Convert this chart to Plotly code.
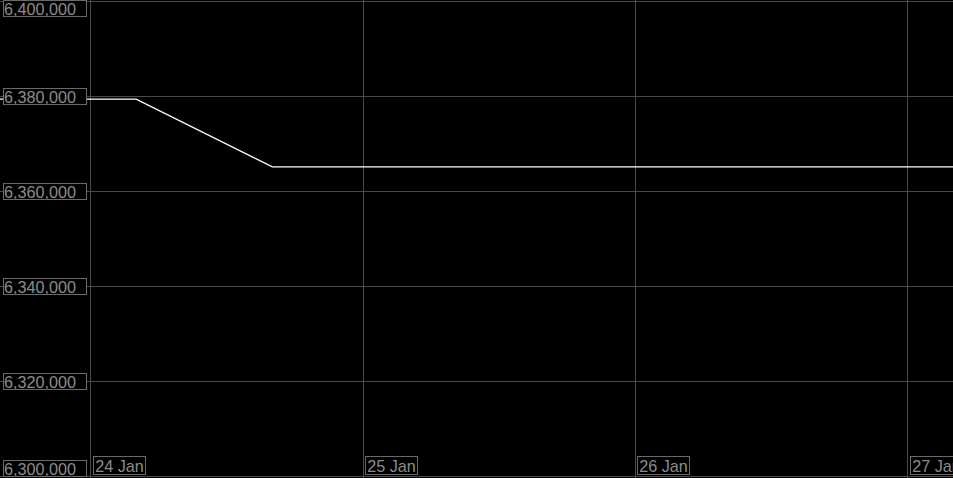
import plotly.graph_objects as go

times = ["2025-01-23 16:00", "2025-01-24 04:00", "2025-01-24 16:00", "2025-01-27 04:00"]
values = [6379500, 6379500, 6365200, 6365200]

y_ticks = [6300000, 6320000, 6340000, 6360000, 6380000, 6400000]
y_tick_labels = ["6,300,000", "6,320,000", "6,340,000", "6,360,000", "6,380,000", "6,400,000"]
x_ticks = ["2025-01-24", "2025-01-25", "2025-01-26", "2025-01-27"]
x_tick_labels = ["24 Jan", "25 Jan", "26 Jan", "27 Jan"]

x_range = ["2025-01-23 16:00", "2025-01-27 04:00"]
y_range = [6299580, 6400420]

GRID = "#4a4a4a"
TXT = "#8c8c8c"
BOX = "#6a6a6a"
FONT = dict(family="Liberation Sans, Arial, sans-serif", size=16.2, color=TXT)

fig = go.Figure()
fig.add_trace(go.Scatter(x=times, y=values, mode="lines",
                         line=dict(color="#ffffff", width=1.3),
                         hoverinfo="skip", showlegend=False))

annotations = []
n = len(y_ticks)
for i, (v, lab) in enumerate(zip(y_ticks, y_tick_labels)):
    if i == 0:
        ann = dict(y=0, yref="paper", yanchor="bottom", yshift=1)
    elif i == n - 1:
        ann = dict(y=1, yref="paper", yanchor="top", yshift=0)
    else:
        ann = dict(y=v, yref="y", yanchor="middle")
    ann.update(x=0, xref="paper", xanchor="left", xshift=3, text=lab,
               width=82, height=15, align="left", valign="middle",
               showarrow=False, font=FONT, bgcolor="#000000",
               bordercolor=BOX, borderwidth=1, borderpad=0)
    annotations.append(ann)

for t, lab in zip(x_ticks, x_tick_labels):
    annotations.append(dict(x=t, xref="x", y=0, yref="paper", xanchor="left",
                            yanchor="bottom", xshift=2, yshift=3, text=lab,
                            width=49, height=15, valign="middle",
                            showarrow=False, font=FONT, bgcolor="#000000",
                            bordercolor=BOX, borderwidth=1, borderpad=1))

fig.update_layout(
    width=953, height=478,
    margin=dict(l=0, r=0, t=0, b=0),
    paper_bgcolor="#000000", plot_bgcolor="#000000",
    annotations=annotations,
    xaxis=dict(range=x_range, type="date", tickvals=x_ticks, showticklabels=False,
               showgrid=True, gridcolor=GRID, gridwidth=1, zeroline=False,
               showline=False, ticks=""),
    yaxis=dict(range=y_range, tickvals=y_ticks, showticklabels=False,
               showgrid=True, gridcolor=GRID, gridwidth=1, zeroline=False,
               showline=False, ticks=""),
)

fig.write_html("out.html", config={"displayModeBar": False},
               post_script="document.body.style.margin='0';document.body.style.background='#000';")
